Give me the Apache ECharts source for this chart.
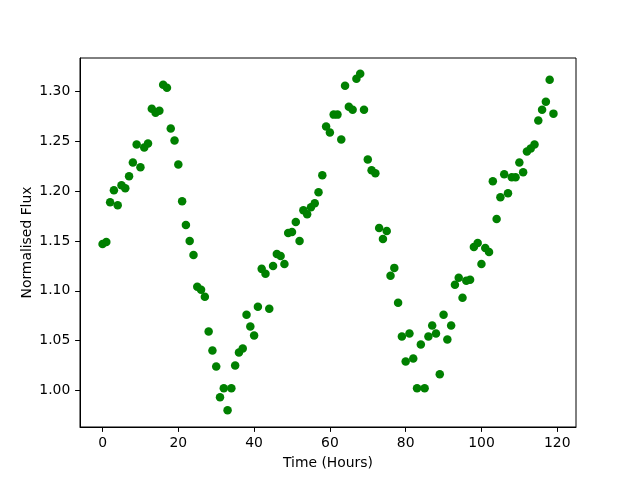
<!DOCTYPE html>
<html>
<head>
<meta charset="utf-8">
<script src="https://cdn.jsdelivr.net/npm/echarts@6/dist/echarts.min.js"></script>
<style>html,body{margin:0;padding:0;background:#fff}#c{width:640px;height:480px}</style>
</head>
<body>
<div id="c"></div>
<script>
// Time (hours) of each observation
var hours = [];
for (var i = 0; i < 120; i++) hours.push(i);
// Normalised flux readings
var flux = [
  1.147, 1.149, 1.189, 1.201, 1.186, 1.206, 1.203, 1.215, 1.229, 1.247,
  1.224, 1.244, 1.248, 1.283, 1.279, 1.281, 1.307, 1.304, 1.263, 1.251,
  1.227, 1.190, 1.166, 1.150, 1.136, 1.104, 1.101, 1.094, 1.059, 1.040,
  1.024, 0.993, 1.002, 0.980, 1.002, 1.025, 1.038, 1.042, 1.076, 1.064,
  1.055, 1.084, 1.122, 1.117, 1.082, 1.125, 1.137, 1.135, 1.127, 1.158,
  1.159, 1.169, 1.150, 1.181, 1.177, 1.184, 1.188, 1.199, 1.216, 1.265,
  1.259, 1.277, 1.277, 1.252, 1.306, 1.285, 1.282, 1.313, 1.318, 1.282,
  1.232, 1.221, 1.218, 1.163, 1.152, 1.160, 1.115, 1.123, 1.088, 1.054,
  1.029, 1.057, 1.032, 1.002, 1.046, 1.002, 1.054, 1.065, 1.057, 1.016,
  1.076, 1.051, 1.065, 1.106, 1.113, 1.093, 1.110, 1.111, 1.144, 1.148,
  1.127, 1.143, 1.139, 1.210, 1.172, 1.194, 1.217, 1.198, 1.214, 1.214,
  1.229, 1.219, 1.240, 1.243, 1.247, 1.271, 1.282, 1.290, 1.312, 1.278
];
var xTicks = [0, 20, 40, 60, 80, 100, 120];
var yTicks = [1.00, 1.05, 1.10, 1.15, 1.20, 1.25, 1.30];

var points = hours.map(function (h, i) { return [h, flux[i]]; });
var font = 'DejaVu Sans';
var chart = echarts.init(document.getElementById('c'), null, {renderer: 'canvas'});
chart.setOption({
  animation: false,
  backgroundColor: '#fff',
  grid: {left: 80, right: 64, top: 58, bottom: 53, show: true, borderColor: '#000', borderWidth: 1, backgroundColor: 'transparent'},
  xAxis: {
    type: 'value', min: -5.95, max: 124.95,
    name: 'Time (Hours)', nameLocation: 'middle', nameGap: 29, nameMoveOverlap: false,
    nameTextStyle: {fontFamily: font, fontSize: 13.9, color: '#000'},
    axisLine: {show: true, onZero: false, lineStyle: {color: '#000', width: 1}},
    axisTick: {show: true, length: 4.9, customValues: xTicks, lineStyle: {color: '#000'}},
    axisLabel: {customValues: xTicks, margin: 9.7, fontFamily: font, fontSize: 13.9, color: '#000'},
    splitLine: {show: false}
  },
  yAxis: {
    type: 'value', min: 0.9631, max: 1.3339,
    name: 'Normalised Flux', nameLocation: 'middle', nameGap: 46, nameMoveOverlap: false,
    nameTextStyle: {fontFamily: font, fontSize: 13.9, color: '#000'},
    axisLine: {show: true, onZero: false, lineStyle: {color: '#000', width: 1}},
    axisTick: {show: true, length: 4.9, customValues: yTicks, lineStyle: {color: '#000'}},
    axisLabel: {customValues: yTicks, margin: 9.7, fontFamily: font, fontSize: 13.9, color: '#000',
      formatter: function (v) { return v.toFixed(2); }},
    splitLine: {show: false}
  },
  series: [{
    type: 'scatter', data: points, symbolSize: 8.5,
    itemStyle: {color: '#008000', opacity: 1}
  }]
});
</script>
</body>
</html>
